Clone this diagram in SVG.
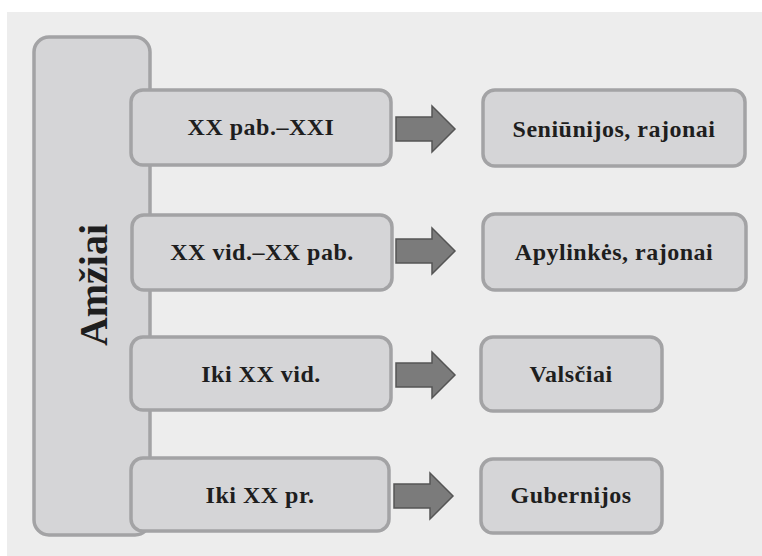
<svg xmlns="http://www.w3.org/2000/svg" width="762" height="556" viewBox="0 0 762 556">
  <style>
    .box { fill: #d5d5d7; stroke: #a3a3a5; stroke-width: 3.5; }
    .arrow { fill: #7b7b7b; stroke: #555; stroke-width: 1.5; stroke-linejoin: miter; }
    .lbl { font-family: "Liberation Serif", "Times New Roman", serif; font-weight: bold; font-size: 24px; letter-spacing: 0.5px; fill: #1e1e1e; text-anchor: middle; }
    .title { font-family: "Liberation Serif", "Times New Roman", serif; font-weight: bold; font-size: 40px; fill: #1e1e1e; text-anchor: middle; }
  </style>
  <defs>
    <polygon id="arr" points="0,-12 36,-12 36,-23 59,0 36,23 36,12 0,12"/>
  </defs>

  <rect x="0" y="0" width="762" height="556" fill="#ffffff"/>
  <rect x="7" y="12" width="755" height="544" fill="#ededed"/>

  <g id="amziai">
    <rect class="box" x="34" y="37" width="116" height="498" rx="15"/>
    <text class="title" transform="translate(107 285) rotate(-90)" x="0" y="0">Amžiai</text>
  </g>

  <g id="p1">
    <rect class="box" x="131" y="90" width="260" height="75" rx="12"/>
    <text class="lbl" x="261" y="135">XX pab.–XXI</text>
  </g>
  <g id="p2">
    <rect class="box" x="132" y="215" width="260" height="75" rx="12"/>
    <text class="lbl" x="262" y="260">XX vid.–XX pab.</text>
  </g>
  <g id="p3">
    <rect class="box" x="131" y="337" width="260" height="73" rx="12"/>
    <text class="lbl" x="261" y="382">Iki XX vid.</text>
  </g>
  <g id="p4">
    <rect class="box" x="131" y="458" width="258" height="73" rx="12"/>
    <text class="lbl" x="260" y="503">Iki XX pr.</text>
  </g>

  <g id="r1">
    <rect class="box" x="483" y="90" width="262" height="76" rx="12"/>
    <text class="lbl" x="614" y="137">Seniūnijos, rajonai</text>
  </g>
  <g id="r2">
    <rect class="box" x="483" y="214" width="263" height="76" rx="12"/>
    <text class="lbl" x="614" y="260">Apylinkės, rajonai</text>
  </g>
  <g id="r3">
    <rect class="box" x="481" y="337" width="181" height="74" rx="12"/>
    <text class="lbl" x="571" y="382">Valsčiai</text>
  </g>
  <g id="r4">
    <rect class="box" x="481" y="459" width="181" height="74" rx="12"/>
    <text class="lbl" x="571" y="503">Gubernijos</text>
  </g>

  <g id="connectors">
    <use href="#arr" class="arrow" transform="translate(396 129)"/>
    <use href="#arr" class="arrow" transform="translate(396 251)"/>
    <use href="#arr" class="arrow" transform="translate(396 375)"/>
    <use href="#arr" class="arrow" transform="translate(394 496)"/>
  </g>
</svg>
